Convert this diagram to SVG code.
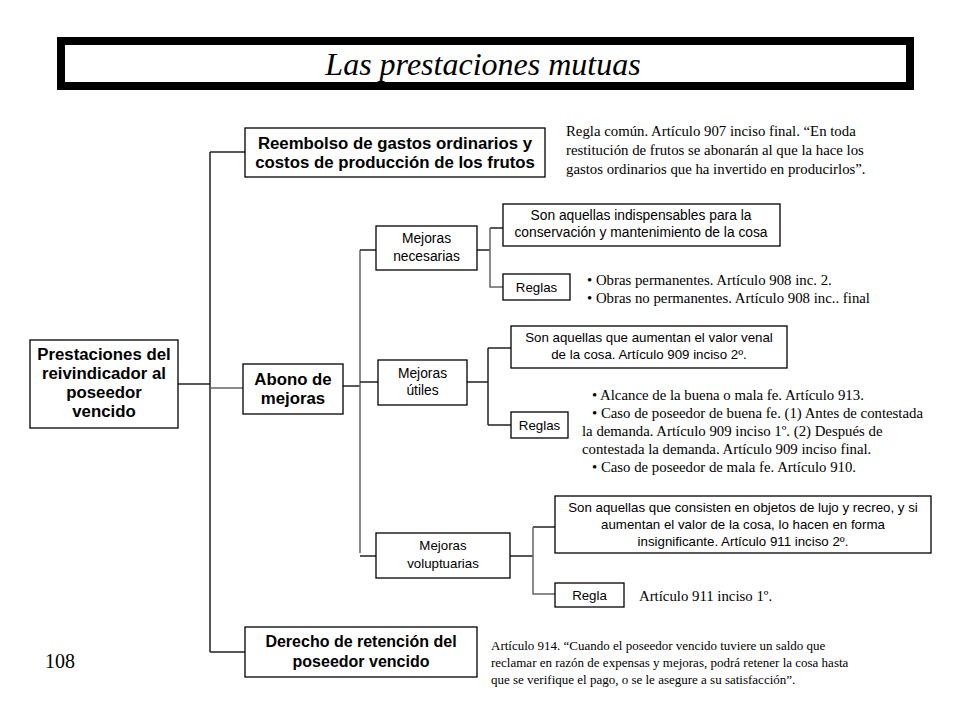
<svg xmlns="http://www.w3.org/2000/svg" width="960" height="720" viewBox="0 0 960 720">
<style>
.box{fill:#fff;stroke:#000;stroke-width:1.3}
.b{font-family:"Liberation Sans",Arial,sans-serif;font-weight:bold;font-size:16.8px;text-anchor:middle;fill:#000}
.s{font-family:"Liberation Sans",Arial,sans-serif;font-size:13.3px;text-anchor:middle;fill:#000}
.m{font-family:"Liberation Sans",Arial,sans-serif;font-size:13.8px;text-anchor:middle;fill:#000}
.t{font-family:"Liberation Serif","DejaVu Serif",serif;font-size:14.8px;fill:#000}
.t2{font-family:"Liberation Serif","DejaVu Serif",serif;font-size:13px;fill:#000}
.h{font-family:"Liberation Serif","DejaVu Serif",serif;font-style:italic;font-size:32px;text-anchor:middle;fill:#000}
.n{font-family:"Liberation Serif","DejaVu Serif",serif;font-size:20px;fill:#000}
.c{fill:none;stroke:#222;stroke-width:1.5}
.g{fill:none;stroke:#666;stroke-width:1.5}
</style>
<rect width="960" height="720" fill="#fff"/>
<g id="title">
<rect x="61" y="41" width="849" height="45" fill="#fff" stroke="#000" stroke-width="8"/>
<text class="h" x="483" y="75">Las prestaciones mutuas</text>
</g>
<g id="connectors">
<path class="c" d="M178 384H210M210 152V652M210 152H245M210 652H245"/>
<path class="g" d="M210 388H243"/>
<path class="c" d="M343 386H360"/>
<path class="g" d="M360 250V553"/>
<path class="c" d="M360 250H376M360 382H378M360 556H376"/>
<path class="c" d="M477 250H490M490 228H503"/>
<path class="g" d="M490 228V287H503"/>
<path class="c" d="M467 382H488M488 348V425M488 348H511M488 425H511"/>
<path class="c" d="M510 556H533M533 527H555"/>
<path class="g" d="M533 527V594H555"/>
</g>
<g id="root">
<rect class="box" x="30" y="340" width="148" height="88"/>
<text class="b"><tspan x="104" y="360">Prestaciones del</tspan><tspan x="104" y="379">reivindicador al</tspan><tspan x="104" y="398">poseedor</tspan><tspan x="104" y="417">vencido</tspan></text>
</g>
<g id="reembolso">
<rect class="box" x="245" y="128" width="300" height="49"/>
<text class="b"><tspan x="395" y="149">Reembolso de gastos ordinarios y</tspan><tspan x="395" y="168">costos de producción de los frutos</tspan></text>
</g>
<g id="regla-comun">
<text class="t"><tspan x="566" y="136">Regla común. Artículo 907 inciso final. “En toda</tspan><tspan x="566" y="155">restitución de frutos se abonarán al que la hace los</tspan><tspan x="566" y="174">gastos ordinarios que ha invertido en producirlos”.</tspan></text>
</g>
<g id="abono">
<rect class="box" x="243" y="364" width="100" height="50"/>
<text class="b"><tspan x="293" y="385">Abono de</tspan><tspan x="293" y="404">mejoras</tspan></text>
</g>
<g id="derecho">
<rect class="box" x="245" y="627" width="232" height="50"/>
<text class="b" style="font-size:16px"><tspan x="361" y="647">Derecho de retención del</tspan><tspan x="361" y="667">poseedor vencido</tspan></text>
</g>
<g id="art914">
<text class="t2"><tspan x="491" y="650">Artículo 914. “Cuando el poseedor vencido tuviere un saldo que</tspan><tspan x="491" y="667">reclamar en razón de expensas y mejoras, podrá retener la cosa hasta</tspan><tspan x="491" y="684">que se verifique el pago, o se le asegure a su satisfacción”.</tspan></text>
</g>
<g id="page">
<text class="n" x="45" y="668">108</text>
</g>
<g id="necesarias">
<rect class="box" x="376" y="226" width="101" height="44"/>
<text class="m"><tspan x="426.5" y="243">Mejoras</tspan><tspan x="426.5" y="261">necesarias</tspan></text>
</g>
<g id="nec-def">
<rect class="box" x="503" y="204" width="277" height="42"/>
<text class="m"><tspan x="641" y="220">Son aquellas indispensables para la</tspan><tspan x="641" y="237">conservación y mantenimiento  de la cosa</tspan></text>
</g>
<g id="nec-reglas">
<rect class="box" x="503" y="274" width="67" height="26"/>
<text class="s" x="536.5" y="292">Reglas</text>
</g>
<g id="nec-reglas-text">
<text class="t"><tspan x="587" y="285">• Obras permanentes. Artículo 908 inc. 2.</tspan><tspan x="587" y="303">• Obras no permanentes. Artículo 908 inc.. final</tspan></text>
</g>
<g id="utiles">
<rect class="box" x="378" y="360" width="89" height="45"/>
<text class="m"><tspan x="422.5" y="378">Mejoras</tspan><tspan x="422.5" y="395">útiles</tspan></text>
</g>
<g id="uti-def">
<rect class="box" x="511" y="326" width="276" height="42"/>
<text class="s"><tspan x="649" y="342">Son aquellas que aumentan el valor venal</tspan><tspan x="649" y="359">de la cosa. Artículo 909  inciso 2º.</tspan></text>
</g>
<g id="uti-reglas">
<rect class="box" x="511" y="412" width="57" height="26"/>
<text class="s" x="539.5" y="430">Reglas</text>
</g>
<g id="uti-reglas-text">
<text class="t"><tspan x="592" y="400">• Alcance de la buena o mala fe. Artículo 913.</tspan><tspan x="592" y="418">• Caso de poseedor de buena fe. (1) Antes de contestada</tspan><tspan x="582" y="436">la demanda. Artículo 909 inciso 1º. (2) Después de</tspan><tspan x="582" y="454">contestada la demanda. Artículo 909 inciso final.</tspan><tspan x="592" y="472">• Caso de poseedor de mala fe. Artículo 910.</tspan></text>
</g>
<g id="voluptuarias">
<rect class="box" x="376" y="533" width="134" height="45"/>
<text class="s"><tspan x="443" y="550">Mejoras</tspan><tspan x="443" y="568">voluptuarias</tspan></text>
</g>
<g id="vol-def">
<rect class="box" x="555" y="496" width="376" height="57"/>
<text class="s"><tspan x="743" y="512">Son aquellas que consisten en objetos de lujo y recreo, y si</tspan><tspan x="743" y="529">aumentan  el valor de la cosa, lo hacen en  forma</tspan><tspan x="743" y="546">insignificante. Artículo 911 inciso 2º.</tspan></text>
</g>
<g id="vol-regla">
<rect class="box" x="555" y="583" width="69" height="24"/>
<text class="s" x="589.5" y="600">Regla</text>
</g>
<g id="vol-regla-text">
<text class="t" x="639" y="601">Artículo 911 inciso 1º.</text>
</g>
</svg>
